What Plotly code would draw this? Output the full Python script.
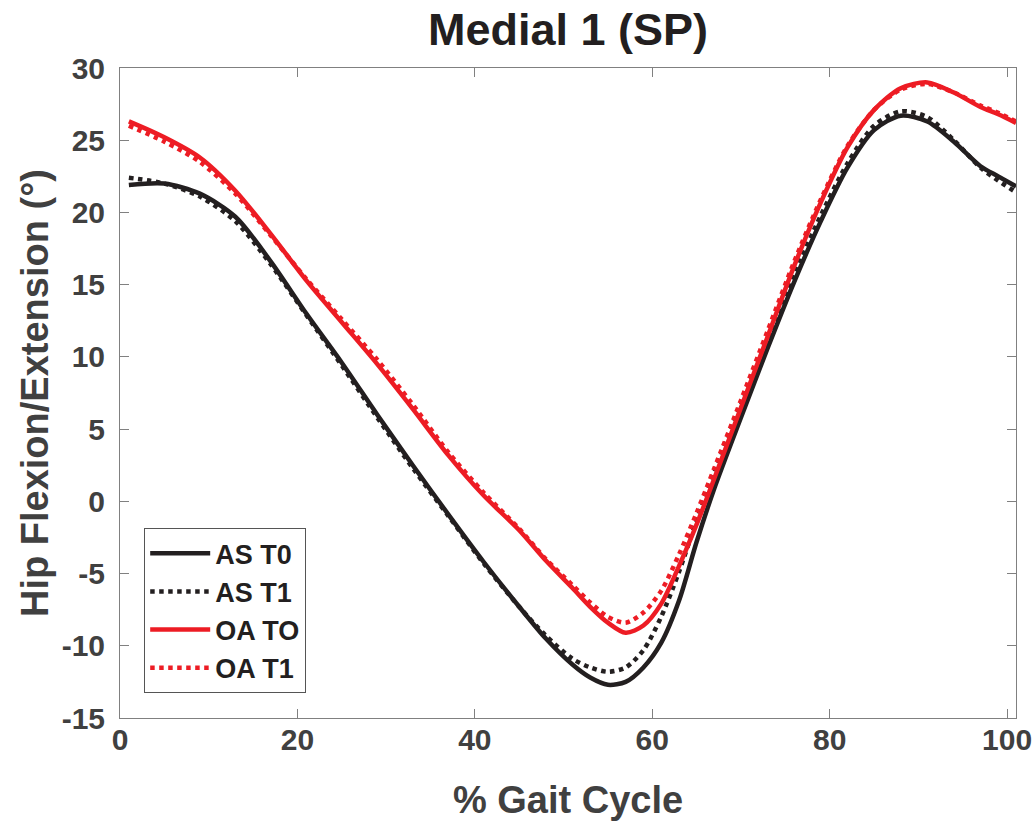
import plotly.graph_objects as go

# % gait cycle sample points
gait = [1, 5, 9, 13, 17, 21, 25, 29, 33, 37, 41, 45, 48, 51, 53, 55, 57, 59,
        61, 63, 65, 67, 70, 73, 76, 79, 82, 85, 88, 91, 94, 97, 99, 101]

as_t0 = [21.9, 22.0, 21.3, 19.7, 16.6, 13.0, 9.6, 6.0, 2.5, -0.9, -4.2, -7.3, -9.5,
         -11.3, -12.2, -12.7, -12.5, -11.5, -9.8, -6.9, -2.8, 0.9, 5.8, 10.6, 15.2,
         19.4, 23.1, 25.7, 26.7, 26.3, 24.9, 23.2, 22.5, 21.8]

as_t1 = [22.4, 22.0, 21.1, 19.4, 16.4, 12.9, 9.4, 5.8, 2.3, -1.0, -4.3, -7.3, -9.3,
         -10.9, -11.5, -11.8, -11.5, -10.3, -8.0, -4.9, -1.3, 2.0, 6.7, 11.3, 15.7,
         19.8, 23.4, 26.0, 27.0, 26.6, 25.0, 23.1, 22.2, 21.4]

oa_t0 = [26.3, 25.2, 23.8, 21.5, 18.5, 15.3, 12.4, 9.5, 6.4, 3.2, 0.4, -2.0, -4.1,
         -6.0, -7.3, -8.4, -9.1, -8.6, -7.1, -4.5, -1.6, 1.6, 6.5, 11.4, 16.3,
         20.7, 24.5, 27.1, 28.6, 29.0, 28.3, 27.3, 26.8, 26.2]

oa_t1 = [26.0, 24.9, 23.5, 21.3, 18.4, 15.4, 12.6, 9.8, 6.7, 3.4, 0.6, -1.9, -4.0,
         -5.8, -7.0, -8.0, -8.4, -7.7, -6.2, -3.7, -0.8, 2.3, 7.0, 11.8, 16.6,
         20.9, 24.6, 27.1, 28.5, 28.9, 28.3, 27.4, 26.9, 26.3]

series_names = ["AS T0", "AS T1", "OA TO", "OA T1"]
series_values = [as_t0, as_t1, oa_t0, oa_t1]
series_colors = ["#231f20", "#231f20", "#ed1c24", "#ed1c24"]
series_dash = ["solid", "dot", "solid", "dot"]

x_ticks = [0, 20, 40, 60, 80, 100]
y_ticks = [-15, -10, -5, 0, 5, 10, 15, 20, 25, 30]

FONT = "Arial, Liberation Sans, sans-serif"
AXIS_GRAY = "#808080"
TEXT_GRAY = "#404040"

fig = go.Figure()
for i, (name, vals, col, dash) in enumerate(zip(series_names, series_values, series_colors, series_dash)):
    fig.add_trace(go.Scatter(
        x=gait, y=vals, mode="lines", name=name,
        line=dict(color=col, width=4.5, dash=dash, shape="spline", smoothing=0.8),
        legendgroup=f"g{i}",
    ))

axis_common = dict(
    showline=True, linecolor=AXIS_GRAY, linewidth=1, mirror="ticks",
    ticks="inside", ticklen=9, tickcolor=AXIS_GRAY, tickwidth=1,
    showgrid=False, zeroline=False, automargin=False,
    tickfont=dict(family=FONT, size=30, color=TEXT_GRAY, weight="bold"),
)

fig.update_layout(
    width=1036, height=822,
    margin=dict(l=120, r=20, t=68, b=104),
    paper_bgcolor="white", plot_bgcolor="white",
    title=dict(text="Medial 1 (SP)", x=0.5, xref="paper", xanchor="center",
               y=1 - 29 / 822, yref="container", yanchor="middle",
               font=dict(family=FONT, size=45, color="#231f20", weight="bold")),
    xaxis=dict(range=[0, 101], tickvals=x_ticks, ticktext=[str(v) for v in x_ticks],
               title=dict(text="% Gait Cycle", standoff=31,
                          font=dict(family=FONT, size=38, color=TEXT_GRAY, weight="bold")),
               ticklabelstandoff=-5,
               **axis_common),
    yaxis=dict(range=[-15, 30], tickvals=y_ticks, ticktext=[str(v) for v in y_ticks],
               title=dict(text="Hip Flexion/Extension (°)", standoff=1,
                          font=dict(family=FONT, size=38, color=TEXT_GRAY, weight="bold")),
               ticklabelstandoff=8,
               **axis_common),
    legend=dict(x=0.027, y=0.038, xanchor="left", yanchor="bottom",
                bgcolor="white", bordercolor="#555555", borderwidth=1,
                font=dict(family=FONT, size=27, color="#231f20", weight="bold"),
                tracegroupgap=0, itemwidth=60),
    showlegend=True,
)

fig.write_html("out.html")
